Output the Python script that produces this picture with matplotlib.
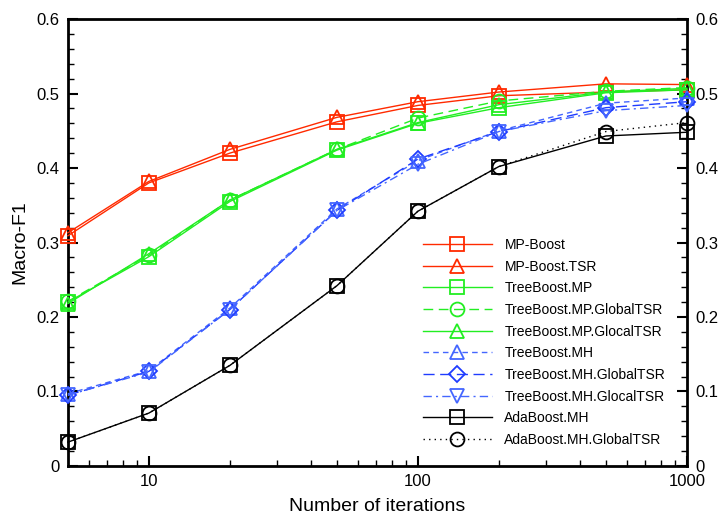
import matplotlib
matplotlib.use("Agg")
import matplotlib.pyplot as plt
from matplotlib.ticker import MultipleLocator, FixedLocator, NullFormatter

plt.rcParams["font.family"] = ["Liberation Sans", "DejaVu Sans"]

# Iteraciones (eje x)
iterations = [5, 10, 20, 50, 100, 200, 500, 1000]

# Macro-F1 por algoritmo
mp_boost = [0.309, 0.380, 0.420, 0.462, 0.484, 0.497, 0.502, 0.505]
mp_boost_tsr = [0.313, 0.382, 0.425, 0.468, 0.489, 0.502, 0.513, 0.512]
tb_mp = [0.220, 0.281, 0.355, 0.424, 0.460, 0.481, 0.501, 0.505]
tb_mp_global = [0.221, 0.283, 0.357, 0.425, 0.467, 0.490, 0.503, 0.508]
tb_mp_glocal = [0.218, 0.285, 0.357, 0.425, 0.461, 0.485, 0.502, 0.507]
tb_mh = [0.097, 0.128, 0.212, 0.345, 0.410, 0.450, 0.487, 0.494]
tb_mh_global = [0.095, 0.127, 0.210, 0.343, 0.412, 0.449, 0.481, 0.489]
tb_mh_glocal = [0.095, 0.126, 0.210, 0.343, 0.405, 0.449, 0.477, 0.484]
ada_mh = [0.032, 0.071, 0.135, 0.242, 0.342, 0.402, 0.443, 0.448]
ada_mh_global = [0.032, 0.071, 0.135, 0.242, 0.342, 0.402, 0.449, 0.461]

labels = [
    "MP-Boost", "MP-Boost.TSR", "TreeBoost.MP", "TreeBoost.MP.GlobalTSR",
    "TreeBoost.MP.GlocalTSR", "TreeBoost.MH", "TreeBoost.MH.GlobalTSR",
    "TreeBoost.MH.GlocalTSR", "AdaBoost.MH", "AdaBoost.MH.GlobalTSR",
]
series = [mp_boost, mp_boost_tsr, tb_mp, tb_mp_global, tb_mp_glocal,
          tb_mh, tb_mh_global, tb_mh_glocal, ada_mh, ada_mh_global]

RED = "#ff2a00"
GREEN = "#22ee22"
BLUE = "#1f3cff"
LBLUE = "#4466ff"
styles = [
    (RED, "-", "s"),
    (RED, "-", "^"),
    (GREEN, "-", "s"),
    (GREEN, (0, (7, 4)), "o"),
    (GREEN, "-", "^"),
    (LBLUE, (0, (4, 3)), "^"),
    (BLUE, (0, (8, 4)), "D"),
    (LBLUE, (0, (6, 3, 1.5, 3)), "v"),
    ("black", "-", "s"),
    ("black", (0, (1, 3)), "o"),
]

fig = plt.figure(figsize=(7.22, 5.18), dpi=100)
ax = fig.add_axes([0.094, 0.1004, 0.8575, 0.8629])

for y, lab, (c, ls, m) in zip(series, labels, styles):
    ms = 8 if m == "D" else 10
    ax.plot(iterations, y, color=c, linestyle=ls, linewidth=1.0, marker=m,
            markersize=ms, markerfacecolor="none", markeredgecolor=c,
            markeredgewidth=1.3, label=lab, clip_on=False, zorder=3)

ax.set_xscale("log")
ax.set_xlim(5, 1000)
ax.set_ylim(0, 0.6)
ax.xaxis.set_major_locator(FixedLocator([10, 100, 1000]))
ax.set_xticklabels(["10", "100", "1000"])
ax.xaxis.set_minor_locator(FixedLocator([6, 7, 8, 9, 20, 30, 40, 50, 60, 70, 80, 90,
                                         200, 300, 400, 500, 600, 700, 800, 900]))
ax.xaxis.set_minor_formatter(NullFormatter())
ax.yaxis.set_major_locator(MultipleLocator(0.1))
ax.yaxis.set_minor_locator(MultipleLocator(0.02))
ax.set_yticks([0, 0.1, 0.2, 0.3, 0.4, 0.5, 0.6])
ax.set_yticklabels(["0", "0.1", "0.2", "0.3", "0.4", "0.5", "0.6"])

ax.tick_params(axis="both", which="major", direction="in", length=7, width=1.5,
               labelsize=12, pad=6)
ax.tick_params(axis="both", which="minor", direction="in", length=4, width=1.0)
ax.tick_params(axis="y", which="both", left=True, right=True, labelright=True)
ax.tick_params(axis="x", which="both", top=False)
for s in ax.spines.values():
    s.set_linewidth(2.0)

ax.set_xlabel("Number of iterations", fontsize=14, labelpad=6)
ax.set_ylabel("Macro-F1", fontsize=14, labelpad=6)

ax.legend(loc="lower right", bbox_to_anchor=(0.985, 0.015), frameon=False,
          fontsize=10, handlelength=5.0, handletextpad=0.9, labelspacing=0.55)

fig.savefig("out.png", dpi=100)
